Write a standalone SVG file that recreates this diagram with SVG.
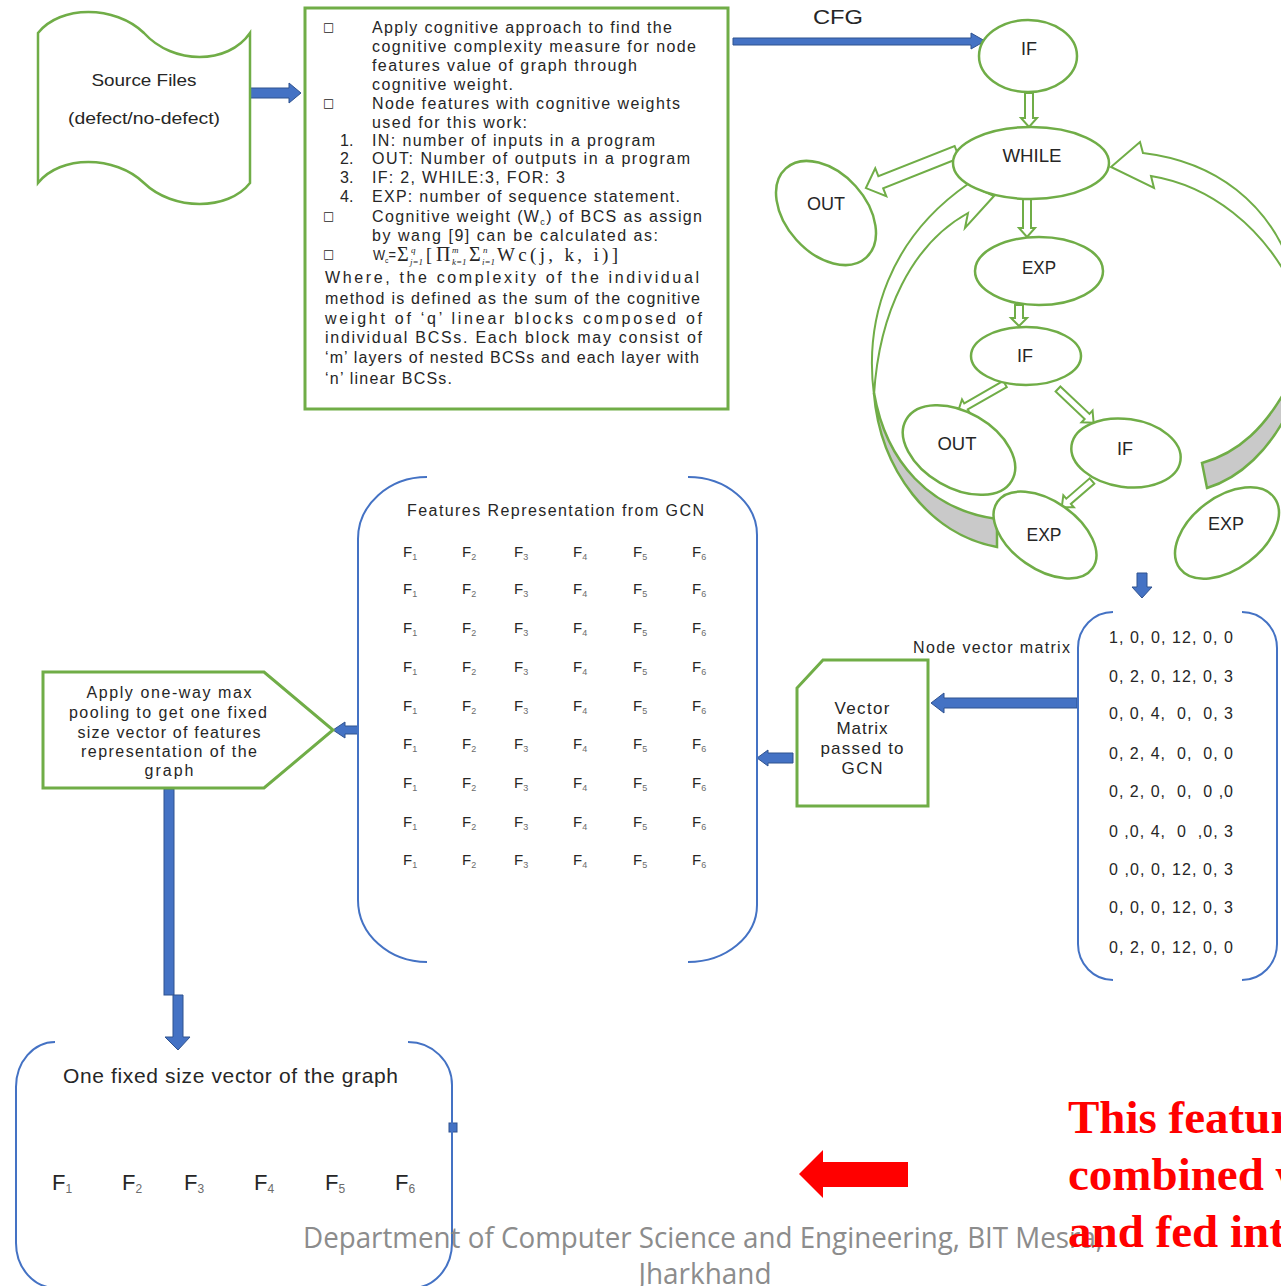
<svg xmlns="http://www.w3.org/2000/svg" width="1281" height="1286" viewBox="0 0 1281 1286">
  <style>
    .t { font-family: "Liberation Sans", Arial, sans-serif; fill: #262626; }
    .t16 { font-size: 16px; }
    .t17 { font-size: 17px; }
    .t18 { font-size: 18px; }
    .mth { font-family: "Liberation Serif", "Times New Roman", serif; fill: #262626; }
    .bul { font-family: "DejaVu Sans", sans-serif; font-size: 12px; fill: #262626; }
    .node { fill: #ffffff; stroke: #70AD47; stroke-width: 2.5; }
    .frame { fill: #ffffff; stroke: #70AD47; stroke-width: 3; }
    .hollow { fill: #ffffff; stroke: #70AD47; stroke-width: 2; stroke-linejoin: miter; }
    .band { fill: #C9C9C9; stroke: #70AD47; stroke-width: 2.5; }
    .blue { fill: #4472C4; stroke: #2F528F; stroke-width: 1; }
    .brk { fill: none; stroke: #4472C4; stroke-width: 2; }
    .f { font-family: "Liberation Sans", Arial, sans-serif; font-size: 15px; fill: #262626; }
    .fs { font-size: 9px; fill: #6b6b6b; }
    .fb { font-family: "Liberation Sans", Arial, sans-serif; font-size: 22px; fill: #262626; }
    .fbs { font-size: 12px; fill: #6b6b6b; }
    .foot { font-family: "Open Sans", "Noto Sans", sans-serif; font-size: 30px; fill: #8C8C8C; }
    .red { font-family: "Liberation Serif", "Times New Roman", serif; font-size: 47px; font-weight: bold; fill: #FF0000; }
  </style>

  <!-- ===== connectors ===== -->
  <g id="connectors">
    <!-- source files -> description -->
    <polygon class="blue" points="250,88 289,88 289,83 301,93 289,103 289,98 250,98"/>
    <!-- description -> CFG -->
    <polygon class="blue" points="733,38 971,38 971,33 985,41 971,49 971,45 733,45"/>
    <!-- CFG -> node vector matrix -->
    <polygon class="blue" points="1137,573 1147,573 1147,587 1152,587 1142,598 1132,587 1137,587"/>
    <!-- matrix -> vector box -->
    <polygon class="blue" points="1077,698 944,698 944,693 931,703 944,713 944,708 1077,708"/>
    <!-- vector box -> features -->
    <polygon class="blue" points="793,753 768,753 768,750 757,758 768,766 768,763 793,763"/>
    <!-- features -> pooling -->
    <polygon class="blue" points="358,726 345,726 345,722 333,730 345,738 345,734 358,734"/>
    <!-- pooling -> fixed vector -->
    <rect class="blue" x="164" y="789" width="10" height="206"/>
    <polygon class="blue" points="173,995 183,995 183,1037 190,1037 178,1050 165,1037 173,1037"/>
    <!-- stub at right side of fixed vector box -->
    <rect class="blue" x="449" y="1123" width="8" height="9"/>
    <!-- red pointer -->
    <polygon fill="#FF0000" points="799,1174 823,1150 823,1162 908,1162 908,1187 823,1187 823,1198"/>

    <!-- CFG: curved loop arrow on the left (back face, then front face) -->
    <path class="band" d="M 874 393 C 880 470 930 535 997 547 L 997 519 C 930 510 886 462 874 393 Z"/>
    <path class="hollow" stroke-width="2.5" d="M 874 395 C 864 318 890 238 968 184 L 994 196 L 965 228 L 968 213 C 912 244 879 312 874 395 Z"/>
    <!-- CFG: curved loop arrow on the right -->
    <path class="band" d="M 1202 463 C 1238 453 1266 428 1290 382 L 1290 408 C 1270 450 1240 478 1207 488 Z"/>
    <path class="hollow" stroke-width="2.5" d="M 1290 264 C 1268 205 1218 162 1143 153 L 1140 142 L 1111 167 L 1154 188 L 1151 176 C 1212 186 1262 228 1290 282 Z"/>

    <!-- CFG: straight hollow arrows -->
    <polygon class="hollow" transform="translate(957,152) rotate(158.4)" points="0,-6.5 82,-6.5 82,-15 98,0 82,15 82,6.5 0,6.5"/>
    <polygon class="hollow" transform="translate(1029,93) rotate(90)" points="0,-4 25,-4 25,-8 34,0 25,8 25,4 0,4"/>
    <polygon class="hollow" transform="translate(1027,199) rotate(90)" points="0,-4 29,-4 29,-8 38,0 29,8 29,4 0,4"/>
    <polygon class="hollow" transform="translate(1019,305) rotate(90)" points="0,-4 13,-4 13,-8 21,0 13,8 13,4 0,4"/>
    <polygon class="hollow" transform="translate(1005,384) rotate(150.1)" points="0,-3.5 45,-3.5 45,-8 54,0 45,8 45,3.5 0,3.5"/>
    <polygon class="hollow" transform="translate(1058,389) rotate(43.4)" points="0,-3.5 40,-3.5 40,-8 49,0 40,8 40,3.5 0,3.5"/>
    <polygon class="hollow" transform="translate(1092,481) rotate(139.1)" points="0,-3.5 31,-3.5 31,-8 40,0 31,8 31,3.5 0,3.5"/>
  </g>

  <!-- ===== source files ===== -->
  <g id="source-files">
    <path class="node" d="M 38 33 C 60 5, 115 5, 144 33 C 173 65, 228 65, 250 33 L 250 183 C 228 211, 173 211, 144 183 C 115 155, 60 155, 38 183 Z"/>
    <text class="t t17" x="144" y="86" text-anchor="middle" textLength="105" lengthAdjust="spacingAndGlyphs">Source Files</text>
    <text class="t t17" x="144" y="124" text-anchor="middle" textLength="152" lengthAdjust="spacingAndGlyphs">(defect/no-defect)</text>
  </g>

  <!-- ===== cognitive weight description ===== -->
  <g id="description">
    <rect class="frame" x="305" y="8" width="423" height="401"/>
    <text class="bul" x="323" y="31">□</text>
    <text class="t t16" x="372" y="33" textLength="300" lengthAdjust="spacing">Apply cognitive approach to find the</text>
    <text class="t t16" x="372" y="52" textLength="324" lengthAdjust="spacing">cognitive complexity measure for node</text>
    <text class="t t16" x="372" y="71" textLength="265" lengthAdjust="spacing">features value of graph through</text>
    <text class="t t16" x="372" y="90" textLength="141" lengthAdjust="spacing">cognitive weight.</text>
    <text class="bul" x="323" y="107">□</text>
    <text class="t t16" x="372" y="109" textLength="308" lengthAdjust="spacing">Node features with cognitive weights</text>
    <text class="t t16" x="372" y="128" textLength="155" lengthAdjust="spacing">used for this work:</text>
    <text class="t t16" x="340" y="146">1.</text>
    <text class="t t16" x="372" y="146" textLength="283" lengthAdjust="spacing">IN: number of inputs in a program</text>
    <text class="t t16" x="340" y="164">2.</text>
    <text class="t t16" x="372" y="164" textLength="318" lengthAdjust="spacing">OUT: Number of outputs in a program</text>
    <text class="t t16" x="340" y="183">3.</text>
    <text class="t t16" x="372" y="183" textLength="193" lengthAdjust="spacing">IF: 2, WHILE:3, FOR: 3</text>
    <text class="t t16" x="340" y="202">4.</text>
    <text class="t t16" x="372" y="202" textLength="308" lengthAdjust="spacing">EXP: number of sequence statement.</text>
    <text class="bul" x="323" y="220">□</text>
    <text class="t t16" x="372" y="222" textLength="330" lengthAdjust="spacing">Cognitive weight (W<tspan font-size="9" dy="3">c</tspan><tspan dy="-3">) of BCS as assign</tspan></text>
    <text class="t t16" x="372" y="241" textLength="286" lengthAdjust="spacing">by wang [9] can be calculated as:</text>
    <text class="bul" x="323" y="258">□</text>
    <!-- cognitive weight formula -->
    <text class="t" font-size="15" x="373" y="260" textLength="23" lengthAdjust="spacingAndGlyphs">W<tspan font-size="8" dy="3">c</tspan><tspan dy="-3">=</tspan></text>
    <text class="mth" font-size="20" x="397" y="261">Σ</text>
    <text class="mth" font-size="9" font-style="italic" x="411" y="253">q</text>
    <text class="mth" font-size="9" font-style="italic" x="410" y="265">j=1</text>
    <text class="mth" font-size="18" x="426" y="261">[</text>
    <text class="mth" font-size="20" x="436" y="261">Π</text>
    <text class="mth" font-size="9" font-style="italic" x="452" y="253">m</text>
    <text class="mth" font-size="9" font-style="italic" x="452" y="265">k=1</text>
    <text class="mth" font-size="20" x="469" y="261">Σ</text>
    <text class="mth" font-size="9" font-style="italic" x="483" y="253">n</text>
    <text class="mth" font-size="9" font-style="italic" x="482" y="265">i=1</text>
    <text class="mth" font-size="19" x="497" y="261" textLength="121" lengthAdjust="spacing">Wc(j, k, i)]</text>
    <text class="t t16" x="325" y="283" textLength="374" lengthAdjust="spacing">Where, the complexity of the individual</text>
    <text class="t t16" x="325" y="304" textLength="375" lengthAdjust="spacing">method is defined as the sum of the cognitive</text>
    <text class="t t16" x="325" y="324" textLength="377" lengthAdjust="spacing">weight of ‘q’ linear blocks composed of</text>
    <text class="t t16" x="325" y="343" textLength="377" lengthAdjust="spacing">individual BCSs. Each block may consist of</text>
    <text class="t t16" x="325" y="363" textLength="374" lengthAdjust="spacing">‘m’ layers of nested BCSs and each layer with</text>
    <text class="t t16" x="325" y="384" textLength="127" lengthAdjust="spacing">‘n’ linear BCSs.</text>
  </g>

  <text class="t" font-size="20" x="838" y="24" text-anchor="middle" textLength="50" lengthAdjust="spacingAndGlyphs">CFG</text>

  <!-- ===== CFG nodes ===== -->
  <g id="cfg-if-top">
    <ellipse class="node" cx="1028" cy="56" rx="49" ry="36"/>
    <text class="t t18" x="1029" y="55" text-anchor="middle">IF</text>
  </g>
  <g id="cfg-while">
    <ellipse class="node" cx="1031" cy="163" rx="78" ry="36"/>
    <text class="t t18" x="1032" y="162" text-anchor="middle" textLength="59" lengthAdjust="spacingAndGlyphs">WHILE</text>
  </g>
  <g id="cfg-out-left">
    <ellipse class="node" cx="826" cy="213" rx="60" ry="40" transform="rotate(48 826 213)"/>
    <text class="t t18" x="826" y="210" text-anchor="middle" textLength="38" lengthAdjust="spacingAndGlyphs">OUT</text>
  </g>
  <g id="cfg-exp-mid">
    <ellipse class="node" cx="1039" cy="271" rx="64" ry="34"/>
    <text class="t t18" x="1039" y="274" text-anchor="middle" textLength="34" lengthAdjust="spacingAndGlyphs">EXP</text>
  </g>
  <g id="cfg-if-mid">
    <ellipse class="node" cx="1026" cy="356" rx="55" ry="29"/>
    <text class="t t18" x="1025" y="362" text-anchor="middle">IF</text>
  </g>
  <g id="cfg-out-low">
    <ellipse class="node" cx="959" cy="450" rx="61" ry="38" transform="rotate(30 959 450)"/>
    <text class="t t18" x="957" y="450" text-anchor="middle" textLength="39" lengthAdjust="spacingAndGlyphs">OUT</text>
  </g>
  <g id="cfg-if-right">
    <ellipse class="node" cx="1126" cy="453" rx="55" ry="34" transform="rotate(8 1126 453)"/>
    <text class="t t18" x="1125" y="455" text-anchor="middle">IF</text>
  </g>
  <g id="cfg-exp-low">
    <ellipse class="node" cx="1045" cy="535" rx="58" ry="34" transform="rotate(35 1045 535)"/>
    <text class="t t18" x="1044" y="541" text-anchor="middle" textLength="35" lengthAdjust="spacingAndGlyphs">EXP</text>
  </g>
  <g id="cfg-exp-right">
    <ellipse class="node" cx="1227" cy="533" rx="59" ry="36" transform="rotate(-37 1227 533)"/>
    <text class="t t18" x="1226" y="530" text-anchor="middle" textLength="36" lengthAdjust="spacingAndGlyphs">EXP</text>
  </g>

  <!-- ===== node vector matrix ===== -->
  <g id="node-vector-matrix">
    <text class="t t16" x="913" y="653" textLength="157" lengthAdjust="spacing">Node vector matrix</text>
    <path class="brk" d="M 1113 612 A 35 36 0 0 0 1078 648 L 1078 944 A 35 36 0 0 0 1113 980"/>
    <path class="brk" d="M 1242 612 A 35 36 0 0 1 1277 648 L 1277 944 A 35 36 0 0 1 1242 980"/>
    <g class="t t16">
      <text x="1109" y="643" textLength="124" lengthAdjust="spacing" xml:space="preserve">1, 0, 0, 12, 0, 0</text>
      <text x="1109" y="682" textLength="124" lengthAdjust="spacing" xml:space="preserve">0, 2, 0, 12, 0, 3</text>
      <text x="1109" y="719" textLength="124" lengthAdjust="spacing" xml:space="preserve">0, 0, 4,  0,  0, 3</text>
      <text x="1109" y="759" textLength="124" lengthAdjust="spacing" xml:space="preserve">0, 2, 4,  0,  0, 0</text>
      <text x="1109" y="797" textLength="124" lengthAdjust="spacing" xml:space="preserve">0, 2, 0,  0,  0 ,0</text>
      <text x="1109" y="837" textLength="124" lengthAdjust="spacing" xml:space="preserve">0 ,0, 4,  0  ,0, 3</text>
      <text x="1109" y="875" textLength="124" lengthAdjust="spacing" xml:space="preserve">0 ,0, 0, 12, 0, 3</text>
      <text x="1109" y="913" textLength="124" lengthAdjust="spacing" xml:space="preserve">0, 0, 0, 12, 0, 3</text>
      <text x="1109" y="953" textLength="124" lengthAdjust="spacing" xml:space="preserve">0, 2, 0, 12, 0, 0</text>
    </g>
  </g>

  <!-- ===== vector matrix to GCN ===== -->
  <g id="vector-matrix">
    <polygon class="frame" points="823,660 928,660 928,806 797,806 797,688"/>
    <text class="t t17" x="862" y="714" text-anchor="middle" textLength="55" lengthAdjust="spacing">Vector</text>
    <text class="t t17" x="862" y="734" text-anchor="middle" textLength="51" lengthAdjust="spacing">Matrix</text>
    <text class="t t17" x="862" y="754" text-anchor="middle" textLength="83" lengthAdjust="spacing">passed to</text>
    <text class="t t17" x="862" y="774" text-anchor="middle" textLength="41" lengthAdjust="spacing">GCN</text>
  </g>

  <!-- ===== features from GCN ===== -->
  <g id="gcn-features">
    <path class="brk" d="M 427 477 A 69 62 0 0 0 358 539 L 358 900 A 69 62 0 0 0 427 962"/>
    <path class="brk" d="M 688 477 A 69 58 0 0 1 757 535 L 757 905 A 69 57 0 0 1 688 962"/>
    <text class="t t16" x="407" y="516" textLength="297" lengthAdjust="spacing">Features Representation from GCN</text>
    <g class="f">
      <text x="403" y="557">F<tspan class="fs" dy="3">1</tspan></text>
      <text x="462" y="557">F<tspan class="fs" dy="3">2</tspan></text>
      <text x="514" y="557">F<tspan class="fs" dy="3">3</tspan></text>
      <text x="573" y="557">F<tspan class="fs" dy="3">4</tspan></text>
      <text x="633" y="557">F<tspan class="fs" dy="3">5</tspan></text>
      <text x="692" y="557">F<tspan class="fs" dy="3">6</tspan></text>
      <text x="403" y="594">F<tspan class="fs" dy="3">1</tspan></text>
      <text x="462" y="594">F<tspan class="fs" dy="3">2</tspan></text>
      <text x="514" y="594">F<tspan class="fs" dy="3">3</tspan></text>
      <text x="573" y="594">F<tspan class="fs" dy="3">4</tspan></text>
      <text x="633" y="594">F<tspan class="fs" dy="3">5</tspan></text>
      <text x="692" y="594">F<tspan class="fs" dy="3">6</tspan></text>
      <text x="403" y="633">F<tspan class="fs" dy="3">1</tspan></text>
      <text x="462" y="633">F<tspan class="fs" dy="3">2</tspan></text>
      <text x="514" y="633">F<tspan class="fs" dy="3">3</tspan></text>
      <text x="573" y="633">F<tspan class="fs" dy="3">4</tspan></text>
      <text x="633" y="633">F<tspan class="fs" dy="3">5</tspan></text>
      <text x="692" y="633">F<tspan class="fs" dy="3">6</tspan></text>
      <text x="403" y="672">F<tspan class="fs" dy="3">1</tspan></text>
      <text x="462" y="672">F<tspan class="fs" dy="3">2</tspan></text>
      <text x="514" y="672">F<tspan class="fs" dy="3">3</tspan></text>
      <text x="573" y="672">F<tspan class="fs" dy="3">4</tspan></text>
      <text x="633" y="672">F<tspan class="fs" dy="3">5</tspan></text>
      <text x="692" y="672">F<tspan class="fs" dy="3">6</tspan></text>
      <text x="403" y="711">F<tspan class="fs" dy="3">1</tspan></text>
      <text x="462" y="711">F<tspan class="fs" dy="3">2</tspan></text>
      <text x="514" y="711">F<tspan class="fs" dy="3">3</tspan></text>
      <text x="573" y="711">F<tspan class="fs" dy="3">4</tspan></text>
      <text x="633" y="711">F<tspan class="fs" dy="3">5</tspan></text>
      <text x="692" y="711">F<tspan class="fs" dy="3">6</tspan></text>
      <text x="403" y="749">F<tspan class="fs" dy="3">1</tspan></text>
      <text x="462" y="749">F<tspan class="fs" dy="3">2</tspan></text>
      <text x="514" y="749">F<tspan class="fs" dy="3">3</tspan></text>
      <text x="573" y="749">F<tspan class="fs" dy="3">4</tspan></text>
      <text x="633" y="749">F<tspan class="fs" dy="3">5</tspan></text>
      <text x="692" y="749">F<tspan class="fs" dy="3">6</tspan></text>
      <text x="403" y="788">F<tspan class="fs" dy="3">1</tspan></text>
      <text x="462" y="788">F<tspan class="fs" dy="3">2</tspan></text>
      <text x="514" y="788">F<tspan class="fs" dy="3">3</tspan></text>
      <text x="573" y="788">F<tspan class="fs" dy="3">4</tspan></text>
      <text x="633" y="788">F<tspan class="fs" dy="3">5</tspan></text>
      <text x="692" y="788">F<tspan class="fs" dy="3">6</tspan></text>
      <text x="403" y="827">F<tspan class="fs" dy="3">1</tspan></text>
      <text x="462" y="827">F<tspan class="fs" dy="3">2</tspan></text>
      <text x="514" y="827">F<tspan class="fs" dy="3">3</tspan></text>
      <text x="573" y="827">F<tspan class="fs" dy="3">4</tspan></text>
      <text x="633" y="827">F<tspan class="fs" dy="3">5</tspan></text>
      <text x="692" y="827">F<tspan class="fs" dy="3">6</tspan></text>
      <text x="403" y="865">F<tspan class="fs" dy="3">1</tspan></text>
      <text x="462" y="865">F<tspan class="fs" dy="3">2</tspan></text>
      <text x="514" y="865">F<tspan class="fs" dy="3">3</tspan></text>
      <text x="573" y="865">F<tspan class="fs" dy="3">4</tspan></text>
      <text x="633" y="865">F<tspan class="fs" dy="3">5</tspan></text>
      <text x="692" y="865">F<tspan class="fs" dy="3">6</tspan></text>
    </g>
  </g>

  <!-- ===== max pooling ===== -->
  <g id="max-pooling">
    <polygon class="frame" points="43,672 264,672 333,730 264,788 43,788"/>
    <text class="t t16" x="169" y="698" text-anchor="middle" textLength="165" lengthAdjust="spacing">Apply one-way max</text>
    <text class="t t16" x="168" y="718" text-anchor="middle" textLength="198" lengthAdjust="spacing">pooling to get one fixed</text>
    <text class="t t16" x="169" y="738" text-anchor="middle" textLength="183" lengthAdjust="spacing">size vector of features</text>
    <text class="t t16" x="169" y="757" text-anchor="middle" textLength="176" lengthAdjust="spacing">representation of the</text>
    <text class="t t16" x="169" y="776" text-anchor="middle" textLength="49" lengthAdjust="spacing">graph</text>
  </g>

  <!-- ===== fixed size graph vector ===== -->
  <g id="graph-vector">
    <path class="brk" d="M 55 1042 A 39 45 0 0 0 16 1087 L 16 1243 A 40 45 0 0 0 56 1288"/>
    <path class="brk" d="M 408 1042 A 44 43 0 0 1 452 1085 L 452 1243 A 40 45 0 0 1 412 1288"/>
    <text class="t" font-size="21" x="63" y="1083" textLength="335" lengthAdjust="spacing">One fixed size vector of the graph</text>
    <g class="fb">
      <text x="52" y="1190">F<tspan class="fbs" dy="3">1</tspan></text>
      <text x="122" y="1190">F<tspan class="fbs" dy="3">2</tspan></text>
      <text x="184" y="1190">F<tspan class="fbs" dy="3">3</tspan></text>
      <text x="254" y="1190">F<tspan class="fbs" dy="3">4</tspan></text>
      <text x="325" y="1190">F<tspan class="fbs" dy="3">5</tspan></text>
      <text x="395" y="1190">F<tspan class="fbs" dy="3">6</tspan></text>
    </g>
  </g>

  <!-- ===== slide footer and callout ===== -->
  <text class="foot" x="303" y="1248" textLength="800" lengthAdjust="spacingAndGlyphs">Department of Computer Science and Engineering, BIT Mesra,</text>
  <text class="foot" x="705" y="1284" text-anchor="middle" textLength="133" lengthAdjust="spacingAndGlyphs">Jharkhand</text>
  <text class="red" x="1068" y="1133">This featur</text>
  <text class="red" x="1068" y="1190">combined w</text>
  <text class="red" x="1068" y="1247">and fed int</text>
</svg>
